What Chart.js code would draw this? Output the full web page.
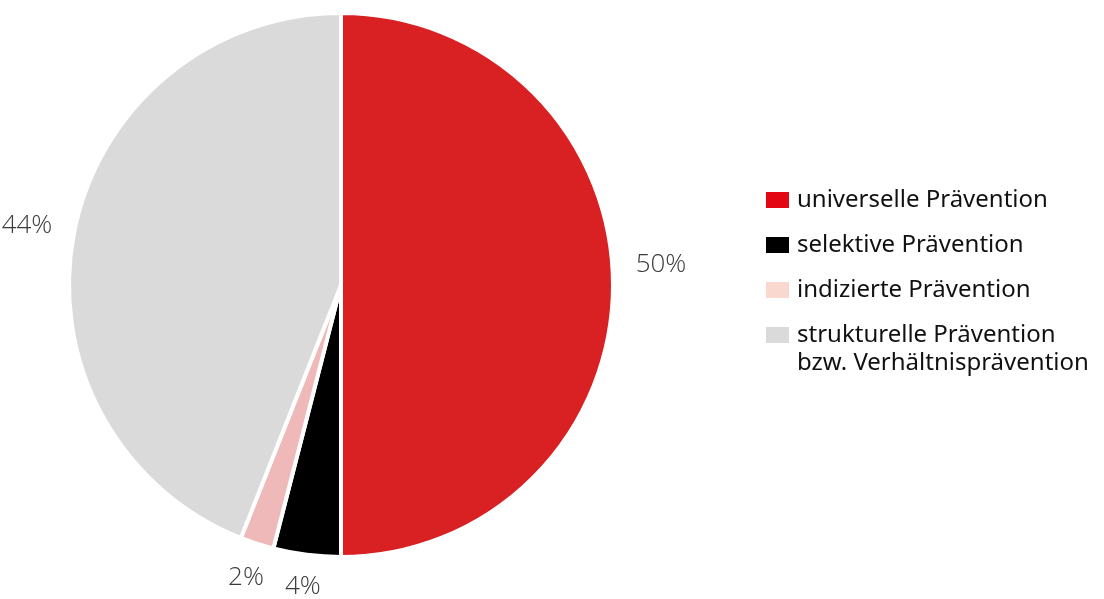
<!DOCTYPE html>
<html>
<head>
<meta charset="utf-8">
<script src="https://cdn.jsdelivr.net/npm/chart.js@4"></script>
<style>
    body {margin: 0; background: #fff; width: 1104px; height: 599px; overflow: hidden; position: relative;}
    #wrap {position: absolute; left: 0; top: 0; width: 1104px; height: 599px;}
    #legend {position: absolute; left: 766px; top: 184px; font-family: "Noto Sans", sans-serif; font-size: 24px; color: #111;}
    .item {display: flex; align-items: flex-start; margin-bottom: 17px; line-height: 28px;}
    .box {width: 23px; height: 16px; margin-top: 8px; margin-right: 8px; flex: none;}
</style>
</head>
<body>
<div id="wrap"><canvas id="pieChart" width="1104" height="599"></canvas></div>
<div id="legend"></div>
<script>
const categories = [
    'universelle Prävention',
    'selektive Prävention',
    'indizierte Prävention',
    ['strukturelle Prävention', 'bzw. Verhältnisprävention']
];
const values = [50, 4, 2, 44];
const sliceColors = ['#d92022', '#000000', '#f0b9b9', '#dadada'];
const legendColors = ['#e30613', '#000000', '#f9d9cf', '#dadada'];

// Prozentwerte außerhalb des Kreises
const outerLabels = {
    id: 'outerLabels',
    afterDatasetsDraw(chart) {
        const {ctx} = chart;
        const meta = chart.getDatasetMeta(0);
        ctx.save();
        ctx.font = '300 26px "Open Sans", sans-serif';
        ctx.fillStyle = '#3a3a3a';
        ctx.textAlign = 'center';
        ctx.textBaseline = 'middle';
        meta.data.forEach((arc, i) => {
            const mid = (arc.startAngle + arc.endAngle) / 2;
            const c = Math.cos(mid), s = Math.sin(mid);
            const r = arc.outerRadius + 30 + 18 * Math.abs(c);
            const lift = c > 0 ? 20 * c : 0;
            ctx.fillText(values[i] + '%', arc.x + c * r, arc.y + s * r - lift);
        });
        ctx.restore();
    }
};

new Chart(document.getElementById('pieChart'), {
    type: 'pie',
    data: {
        labels: categories.map(c => Array.isArray(c) ? c.join(' ') : c),
        datasets: [{
            data: values,
            backgroundColor: sliceColors,
            borderColor: '#fff',
            borderWidth: 4,
            radius: 272
        }]
    },
    options: {
        responsive: false,
        animation: false,
        layout: {padding: {left: 0, top: 0, right: 422, bottom: 29}},
        plugins: {legend: {display: false}, tooltip: {enabled: false}}
    },
    plugins: [outerLabels]
});

const legend = document.getElementById('legend');
categories.forEach((c, i) => {
    const item = document.createElement('div');
    item.className = 'item';
    const box = document.createElement('div');
    box.className = 'box';
    box.style.background = legendColors[i];
    const text = document.createElement('div');
    text.innerHTML = Array.isArray(c) ? c.join('<br>') : c;
    item.appendChild(box);
    item.appendChild(text);
    legend.appendChild(item);
});
</script>
</body>
</html>
